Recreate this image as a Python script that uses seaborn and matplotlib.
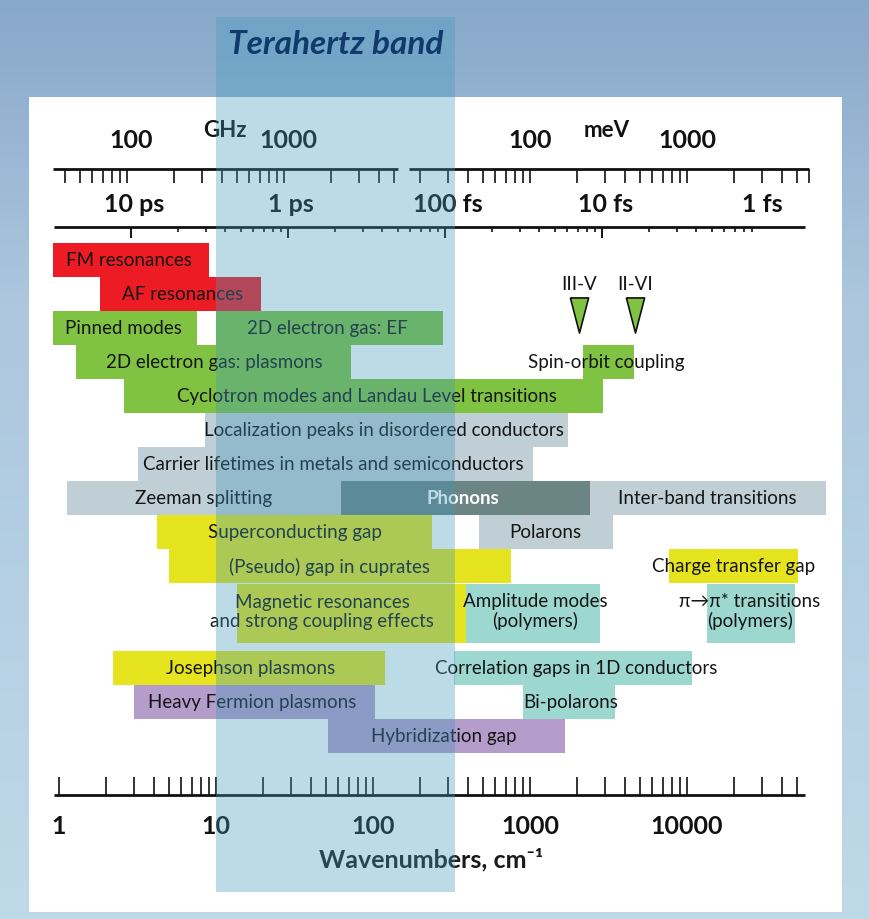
import numpy as np
import pandas as pd
import seaborn as sns
import matplotlib.pyplot as plt
from matplotlib.patches import Rectangle

# ---- data: energy ranges in wavenumbers (cm^-1) ----
bar_names = ['FM resonances', 'AF resonances', 'Pinned modes', '2D electron gas: EF',
             '2D electron gas: plasmons', 'Spin-orbit coupling',
             'Cyclotron modes and Landau Level transitions',
             'Localization peaks in disordered conductors',
             'Carrier lifetimes in metals and semiconductors',
             'Zeeman splitting', 'Phonons', 'Inter-band transitions',
             'Superconducting gap', 'Polarons', '(Pseudo) gap in cuprates',
             'Charge transfer gap', 'Magnetic resonances\nand strong coupling effects',
             'Amplitude modes\n(polymers)', 'π→π* transitions\n(polymers)',
             'Josephson plasmons', 'Correlation gaps in 1D conductors',
             'Heavy Fermion plasmons', 'Bi-polarons', 'Hybridization gap']
bar_low = [0.92, 1.82, 0.92, 10, 1.28, 2180, 2.6, 8.5, 3.2, 1.12, 63, 2400,
           4.2, 470, 5.0, 7700, 13.6, 390, 13400, 2.2, 330, 3.0, 900, 52]
bar_high = [9.0, 19.4, 7.6, 280, 72, 4600, 2900, 1750, 1050, 63, 2400, 77000,
            238, 3400, 760, 51000, 390, 2800, 49000, 119, 10800, 103, 3500, 1670]
bar_row = [1, 2, 3, 3, 4, 4, 5, 6, 7, 8, 8, 8, 9, 9, 10, 10, 11.4, 11.4, 11.4,
           13, 13, 14, 14, 15]
bar_group = ['magnetic', 'magnetic', 'electron', 'electron', 'electron', 'electron',
             'electron', 'transport', 'transport', 'transport', 'phonon', 'transport',
             'supercond', 'transport', 'supercond', 'supercond', 'supercond',
             'polymer', 'polymer', 'supercond', 'polymer', 'fermion', 'polymer', 'fermion']
label_x = [2.79, 6.16, 2.56, 50.9, 9.71, 3050, 91.5, 117.5, 55.6, 8.39, 374, 13400,
           31.9, 1247, 52.5, 19900, 47.3, 1076, 25200, 16.5, 1963, 16.9, 1824, 283]

tri_names = ['III-V', 'II-VI']
tri_x = [2050, 4670]

thz_band = [0.3, 10]          # THz
CM_PER_THZ = 33.356

bottom_labels = [1, 10, 100, 1000, 10000]
ghz_labels = [100, 1000]
mev_labels = [100, 1000]
time_labels = ['10 ps', '1 ps', '100 fs', '10 fs', '1 fs']
time_ps = [10, 1, 0.1, 0.01, 0.001]

# scale of the top rulers as drawn in the original
GHZ_PER_CM = 36.9
CM_PER_MEV = 10.0
CM_PER_THZ_DRAWN = 28.7

colors = {'magnetic': '#ed1c24', 'electron': '#80c241', 'transport': '#c0cfd5',
          'phonon': '#6b8584', 'supercond': '#e5e41f', 'polymer': '#9dd8d0',
          'fermion': '#b49dcb'}

df = pd.DataFrame({'name': bar_names, 'low': bar_low, 'high': bar_high,
                   'row': bar_row, 'group': bar_group, 'lx': label_x})

sns.set_style('white')
plt.rcParams['font.family'] = ['Lato', 'DejaVu Sans']

fig = plt.figure(figsize=(8.69, 9.2), dpi=100)

# background gradient + white panel
ax_bg = fig.add_axes([0, 0, 1, 1])
t = np.linspace(0, 1, 256)[:, None]
top = np.array([136, 168, 202]) / 255
mid = np.array([172, 199, 222]) / 255
bot = np.array([190, 218, 232]) / 255
grad = np.where(t < 0.33, top + (mid - top) * (t / 0.33), mid + (bot - mid) * ((t - 0.33) / 0.67))
ax_bg.imshow(grad.reshape(256, 1, 3), aspect='auto', extent=[0, 1, 0, 1])
ax_bg.add_patch(Rectangle((29 / 869, 7 / 920), 813 / 869, 815 / 920,
                          transform=ax_bg.transAxes, color='white', lw=0))
ax_bg.set_axis_off()

ax = fig.add_axes([0, 0, 1, 1])
ax.patch.set_alpha(0)
ax.set_xscale('log')


def yr(px):
    return 1 + (px - 261) / 34


def xc(px):
    return 10 ** ((px - 59) / 157)


ax.set_xlim(xc(0), xc(869))
ax.set_ylim(yr(920), yr(0))
ax.set_axis_off()

# bars
heights = np.where(df['row'] == 11.4, 1.74, 1.0)
ax.barh(df['row'], df['high'] - df['low'], left=df['low'], height=heights,
        color=[colors[g] for g in df['group']], lw=0, zorder=2)
for _, r in df.iterrows():
    if r['name'] == 'Phonons':
        ax.text(r['lx'], r['row'], r['name'], ha='center', va='center', fontsize=13.5,
                color='white', weight='bold', zorder=3)
    else:
        ax.text(r['lx'], r['row'] - 0.08 * ('\n' in r['name']), r['name'], ha='center',
                va='center', fontsize=13.5, color='#151515', linespacing=1.12, zorder=3)

# spin-orbit triangles
tri = [(-0.26, 0.5), (0.26, 0.5), (0, -0.5), (-0.26, 0.5)]
sns.scatterplot(x=tri_x, y=[yr(316)] * 2, marker=tri, s=640, color='#80c241',
                edgecolor='#111111', linewidth=1.2, ax=ax, zorder=3, legend=False)
for name, x in zip(tri_names, tri_x):
    ax.text(x, yr(285), name, ha='center', va='center', fontsize=13.5, color='#151515', zorder=3)

ink = '#111111'

# bottom wavenumber ruler
ax.plot([xc(54), xc(805)], [yr(796)] * 2, color=ink, lw=2, solid_capstyle='butt', zorder=3)
bt = [k * d for d in [1, 10, 100, 1000] for k in range(1, 10)] + [10000, 20000, 30000, 40000, 50000]
ax.vlines(bt, yr(778), yr(796), color=ink, lw=1.2, zorder=3)
for v in bottom_labels:
    ax.text(v, yr(827), str(v), ha='center', va='center', fontsize=18, weight='bold',
            color=ink, zorder=3)
ax.text(xc(431), yr(860), 'Wavenumbers, cm⁻¹', ha='center', va='center', fontsize=18,
        weight='bold', color='#1a1a1a', zorder=3)

# GHz ruler
gt = [k * 10 for k in range(4, 10)] + [k * 100 for k in range(1, 11)] + [k * 1000 for k in range(2, 6)]
ax.plot([34 / GHZ_PER_CM, 5300 / GHZ_PER_CM], [yr(170)] * 2, color=ink, lw=2,
        solid_capstyle='butt', zorder=3)
ax.vlines(np.array(gt) / GHZ_PER_CM, yr(170), yr(184), color=ink, lw=1.2, zorder=3)
for v in ghz_labels:
    ax.text(v / GHZ_PER_CM * 1.06, yr(141), str(v), ha='center', va='center', fontsize=18,
            weight='bold', color=ink, zorder=3)
ax.text(xc(225), yr(131), 'GHz', ha='center', va='center', fontsize=16, weight='bold',
        color=ink, zorder=3)

# meV ruler
mt = [k * 10 for k in range(2, 10)] + [k * 100 for k in range(1, 11)] + [k * 1000 for k in range(2, 7)]
ax.plot([17 * CM_PER_MEV, 6000 * CM_PER_MEV], [yr(170)] * 2, color=ink, lw=2,
        solid_capstyle='butt', zorder=3)
ax.vlines(np.array(mt) * CM_PER_MEV, yr(170), yr(184), color=ink, lw=1.2, zorder=3)
for v in mev_labels:
    ax.text(v * CM_PER_MEV, yr(141), str(v), ha='center', va='center', fontsize=18,
            weight='bold', color=ink, zorder=3)
ax.text(xc(607), yr(131), 'meV', ha='center', va='center', fontsize=16, weight='bold',
        color=ink, zorder=3)

# time ruler
ax.plot([xc(54), xc(805)], [yr(228)] * 2, color=ink, lw=2, solid_capstyle='butt', zorder=3)
majors = [CM_PER_THZ_DRAWN / T for T in time_ps[:4]]
minors = [CM_PER_THZ_DRAWN / (T / k) for T in time_ps[:4] for k in range(2, 10)]
ax.vlines(majors, yr(228), yr(239), color=ink, lw=1.4, zorder=3)
ax.vlines(minors, yr(228), yr(233), color=ink, lw=1.2, zorder=3)
for lab, T in zip(time_labels, time_ps):
    ax.text(CM_PER_THZ_DRAWN / T * 1.05, yr(205), lab, ha='center', va='center', fontsize=18,
            weight='bold', color=ink, zorder=3)

# terahertz band overlay
lo, hi = thz_band[0] * CM_PER_THZ, thz_band[1] * CM_PER_THZ
ax.axvspan(lo, hi, ymin=(920 - 893) / 920, ymax=(920 - 18) / 920, color='#4298bd',
           alpha=0.35, lw=0, zorder=5)
ax.text(np.sqrt(lo * hi), yr(45), 'Terahertz band', ha='center', va='center', fontsize=24,
        weight='bold', style='italic', color='#0f3a6b', zorder=6)

fig.savefig('out.png', dpi=100)
